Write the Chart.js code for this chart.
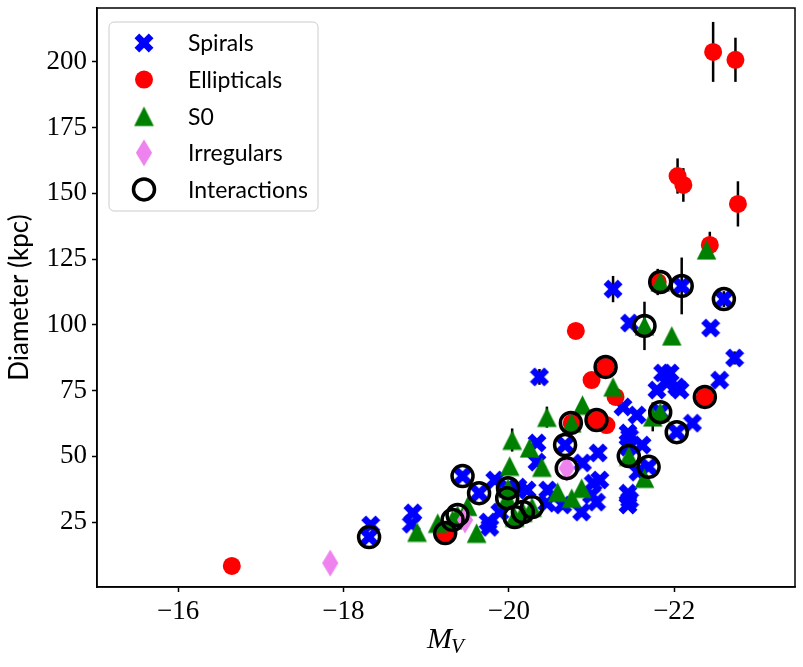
<!DOCTYPE html>
<html>
<head>
<meta charset="utf-8">
<script src="https://cdn.jsdelivr.net/npm/chart.js@4.4.0/dist/chart.umd.min.js"></script>
<style>
  body { margin: 0; background: #fff; }
  canvas { display: block; }
</style>
</head>
<body>
<canvas id="galaxyChart" width="803" height="667"></canvas>
<script>
// Datos: magnitud absoluta M_V, diametro (kpc) y barra de error
const spiralsMv = [-18.33, -18.31, -18.84, -18.82, -19.44, -19.64, -19.75, -19.77, -19.83, -19.89,
  -19.99, -20.11, -20.22, -20.34, -20.34, -20.37, -20.47, -20.46, -20.65, -20.68,
  -20.89, -21.02, -21.00, -20.88, -21.06, -21.10, -21.08, -21.26, -21.38, -21.55,
  -21.44, -21.46, -21.61, -21.44, -21.44, -21.44, -21.46, -21.56, -21.46, -21.86,
  -22.03, -21.79, -21.95, -22.07, -21.91, -22.22, -22.44, -22.55, -22.73, -22.09,
  -22.60, -22.03, -21.69, -21.83];
const spiralsD = [23.9, 19.3, 28.5, 24.2, 42.5, 36.0, 25.0, 23.0, 41.0, 28.8,
  37.9, 38.3, 37.2, 55.1, 47.8, 80.2, 37.2, 32.2, 31.5, 54.3,
  47.5, 39.8, 35.3, 28.8, 32.6, 41.0, 51.3, 113.6, 68.8, 65.7,
  58.9, 57.3, 54.3, 53.5, 36.0, 31.5, 33.4, 44.0, 100.7, 81.7,
  76.4, 75.2, 81.7, 75.2, 77.9, 62.6, 98.8, 79.0, 87.4, 114.8,
  109.8, 59.2, 46.0, 66.8];
const spiralsErr = [0, 0, 0, 0, 0, 0, 0, 0, 0, 0,
  0, 0, 0, 0, 0, 3, 0, 0, 0, 0,
  0, 0, 0, 0, 0, 0, 0, 5, 0, 0,
  0, 0, 0, 0, 0, 0, 0, 0, 0, 0,
  0, 0, 0, 0, 0, 0, 0, 0, 2.5, 10.8,
  3, 0, 0, 0];

const ellipticalsMv = [-16.65, -19.23, -20.81, -21.00, -21.17, -21.29, -21.06, -21.18, -20.76, -21.80,
  -22.37, -22.47, -22.74, -22.04, -22.11, -22.77, -22.43];
const ellipticalsD = [8.3, 20.8, 97.7, 79.0, 84.0, 72.6, 63.8, 61.9, 62.7, 116.3,
  72.6, 203.8, 200.8, 156.6, 153.2, 146.0, 130.4];
const ellipticalsErr = [0, 0, 2.5, 0, 0, 0, 0, 0, 0, 5,
  0, 11.4, 8.4, 6.7, 6.4, 8.6, 5];

const s0Mv = [-18.89, -19.14, -19.61, -19.38, -19.32, -19.50, -20.01, -20.04, -20.25, -20.40,
  -20.46, -20.89, -20.76, -20.59, -20.76, -20.88, -21.26, -21.83, -21.64, -21.97,
  -22.39, -21.74, -21.83, -21.45, -21.64, -19.99, -19.98, -20.07, -20.17, -20.28];
const s0D = [21.2, 24.6, 20.8, 27.7, 25.8, 31.0, 46.3, 56.2, 53.2, 45.9,
  64.9, 69.5, 62.7, 36.4, 34.1, 37.9, 76.4, 116.3, 99.6, 95.8,
  128.5, 65.0, 66.8, 50.1, 41.7, 37.9, 34.1, 26.9, 28.8, 30.7];
const s0Err = [0, 0, 0, 0, 0, 0, 0, 4.4, 0, 0,
  4, 0, 0, 0, 0, 0, 0, 0, 9.2, 0,
  0, 5.5, 0, 0, 0, 0, 0, 0, 0, 0];

const irregularsMv = [-17.84, -19.47, -20.70];
const irregularsD = [9.4, 25.8, 45.5];

const interactionsMv = [-18.31, -19.23, -19.32, -19.38, -19.44, -19.64, -19.99, -19.98, -20.07, -20.17,
  -20.28, -20.68, -20.70, -20.75, -21.06, -21.17, -21.45, -21.69, -21.64, -21.83,
  -22.09, -22.60, -21.83, -22.03, -22.37];
const interactionsD = [19.3, 20.8, 25.8, 27.7, 42.5, 36.0, 37.9, 34.1, 26.9, 28.8,
  30.7, 54.3, 45.5, 62.7, 63.8, 84.0, 50.1, 46.0, 99.6, 116.3,
  114.8, 109.8, 66.8, 59.2, 72.6];

const xTicks = [-16, -18, -20, -22];
const yTicks = [25, 50, 75, 100, 125, 150, 175, 200];

function toPoints(xs, ys) {
    return xs.map((x, i) => ({ x: x, y: ys[i] }));
}

// Marcadores estilo matplotlib dibujados en canvas
function makeMarker(w, h, drawFn) {
    const c = document.createElement('canvas');
    c.width = w;
    c.height = h;
    const g = c.getContext('2d');
    g.translate(w / 2, h / 2);
    drawFn(g);
    return c;
}

const xMarker = makeMarker(20, 20, g => {
    const u = 19 / 4;
    const pts = [[-1, -2], [0, -1], [1, -2], [2, -1], [1, 0], [2, 1], [1, 2], [0, 1], [-1, 2], [-2, 1], [-1, 0], [-2, -1]];
    g.beginPath();
    pts.forEach((p, i) => i ? g.lineTo(p[0] * u, p[1] * u) : g.moveTo(p[0] * u, p[1] * u));
    g.closePath();
    g.fillStyle = '#0000ff';
    g.fill();
});

const triMarker = makeMarker(21, 21, g => {
    const r = 9.8;
    g.beginPath();
    g.moveTo(0, -r);
    g.lineTo(r, r);
    g.lineTo(-r, r);
    g.closePath();
    g.fillStyle = '#008000';
    g.fill();
});

const diamondMarker = makeMarker(18, 28, g => {
    g.beginPath();
    g.moveTo(0, -13.5);
    g.lineTo(8.1, 0);
    g.lineTo(0, 13.5);
    g.lineTo(-8.1, 0);
    g.closePath();
    g.fillStyle = '#ee82ee';
    g.fill();
});

// Barras de error verticales
const errorBars = {
    id: 'errorBars',
    beforeDatasetsDraw(chart) {
        const ctx = chart.ctx;
        const xs = chart.scales.x;
        const ys = chart.scales.y;
        ctx.save();
        ctx.strokeStyle = '#000';
        ctx.lineWidth = 2.5;
        chart.data.datasets.forEach(ds => {
            if (!ds.errors) return;
            ds.data.forEach((p, i) => {
                const e = ds.errors[i];
                if (!e) return;
                const px = xs.getPixelForValue(p.x);
                ctx.beginPath();
                ctx.moveTo(px, ys.getPixelForValue(p.y - e));
                ctx.lineTo(px, ys.getPixelForValue(p.y + e));
                ctx.stroke();
            });
        });
        ctx.restore();
    }
};

// Marco, leyenda y etiqueta M_V
const decorations = {
    id: 'decorations',
    afterDraw(chart) {
        const ctx = chart.ctx;
        const a = chart.chartArea;
        ctx.save();
        ctx.strokeStyle = '#000';
        ctx.lineWidth = 1.5;
        ctx.strokeRect(a.left, a.top, a.right - a.left, a.bottom - a.top);

        // leyenda
        const bx = 109, by = 22, bw = 209, bh = 189;
        ctx.beginPath();
        ctx.roundRect(bx, by, bw, bh, 5);
        ctx.fillStyle = 'rgba(255,255,255,0.8)';
        ctx.fill();
        ctx.strokeStyle = '#cccccc';
        ctx.lineWidth = 1;
        ctx.stroke();

        const names = ['Spirals', 'Ellipticals', 'S0', 'Irregulars', 'Interactions'];
        ctx.font = '23px Lato';
        ctx.textBaseline = 'middle';
        ctx.textAlign = 'left';
        names.forEach((name, i) => {
            const ds = chart.data.datasets.find(d => d.label === name);
            const cy = 43 + i * 36.6;
            const cx = 144;
            const st = ds.pointStyle;
            if (st === 'circle') {
                ctx.beginPath();
                ctx.arc(cx, cy, ds.pointRadius, 0, Math.PI * 2);
                if (ds.backgroundColor !== 'transparent') {
                    ctx.fillStyle = ds.backgroundColor;
                    ctx.fill();
                }
                if (ds.borderWidth) {
                    ctx.strokeStyle = ds.borderColor;
                    ctx.lineWidth = ds.borderWidth;
                    ctx.stroke();
                }
            } else {
                ctx.drawImage(st, cx - st.width / 2, cy - st.height / 2);
            }
            ctx.fillStyle = '#000';
            ctx.fillText(name, 188, cy + 1);
        });

        // etiqueta del eje x con subindice
        ctx.fillStyle = '#000';
        ctx.textBaseline = 'alphabetic';
        ctx.font = 'italic 30px "Liberation Serif"';
        const wM = ctx.measureText('M').width;
        ctx.font = 'italic 21px "Liberation Serif"';
        const wV = ctx.measureText('V').width;
        const x0 = (a.left + a.right) / 2 - (wM + wV) / 2;
        ctx.font = 'italic 30px "Liberation Serif"';
        ctx.fillText('M', x0, 648);
        ctx.font = 'italic 21px "Liberation Serif"';
        ctx.fillText('V', x0 + wM - 1, 653);
        ctx.restore();
    }
};

const ctx = document.getElementById('galaxyChart').getContext('2d');
const galaxyChart = new Chart(ctx, {
    type: 'scatter',
    data: {
        datasets: [{
            label: 'Interactions',
            data: toPoints(interactionsMv, interactionsD),
            pointStyle: 'circle',
            pointRadius: 10.5,
            backgroundColor: 'transparent',
            borderColor: '#000',
            borderWidth: 3.5,
            order: 0
        }, {
            label: 'Irregulars',
            data: toPoints(irregularsMv, irregularsD),
            pointStyle: diamondMarker,
            order: 1
        }, {
            label: 'S0',
            data: toPoints(s0Mv, s0D),
            errors: s0Err,
            pointStyle: triMarker,
            order: 2
        }, {
            label: 'Ellipticals',
            data: toPoints(ellipticalsMv, ellipticalsD),
            errors: ellipticalsErr,
            pointStyle: 'circle',
            pointRadius: 9,
            backgroundColor: '#ff0000',
            borderWidth: 0,
            order: 3
        }, {
            label: 'Spirals',
            data: toPoints(spiralsMv, spiralsD),
            errors: spiralsErr,
            pointStyle: xMarker,
            order: 4
        }]
    },
    options: {
        responsive: false,
        animation: false,
        layout: {
            autoPadding: false,
            padding: { top: 8, right: 8, left: 0, bottom: 0 }
        },
        plugins: {
            legend: { display: false },
            tooltip: { enabled: false }
        },
        scales: {
            x: {
                type: 'linear',
                reverse: true,
                min: -23.46,
                max: -15.02,
                afterBuildTicks: scale => {
                    scale.ticks = xTicks.map(v => ({ value: v }));
                },
                afterFit: scale => {
                    scale.height = 80;
                    scale.paddingLeft = 0;
                    scale.paddingRight = 0;
                },
                grid: {
                    drawOnChartArea: false,
                    tickLength: 5,
                    tickWidth: 1.5,
                    tickColor: '#000'
                },
                border: { color: '#000', width: 1.5 },
                ticks: {
                    padding: 4,
                    color: '#000',
                    font: { family: '"Liberation Serif"', size: 27 },
                    callback: v => String(v).replace('-', '\u2212')
                }
            },
            y: {
                type: 'linear',
                min: 0.3,
                max: 220.5,
                afterBuildTicks: scale => {
                    scale.ticks = yTicks.map(v => ({ value: v }));
                },
                afterFit: scale => {
                    scale.width = 97;
                    scale.paddingTop = 0;
                    scale.paddingBottom = 0;
                },
                grid: {
                    drawOnChartArea: false,
                    tickLength: 5,
                    tickWidth: 1.5,
                    tickColor: '#000'
                },
                border: { color: '#000', width: 1.5 },
                ticks: {
                    padding: 5,
                    color: '#000',
                    font: { family: '"Liberation Serif"', size: 27 }
                },
                title: {
                    display: true,
                    text: 'Diameter (kpc)',
                    color: '#000',
                    font: { family: 'Lato', size: 26 },
                    padding: { top: 4, bottom: 0 }
                }
            }
        }
    },
    plugins: [errorBars, decorations]
});
</script>
</body>
</html>
